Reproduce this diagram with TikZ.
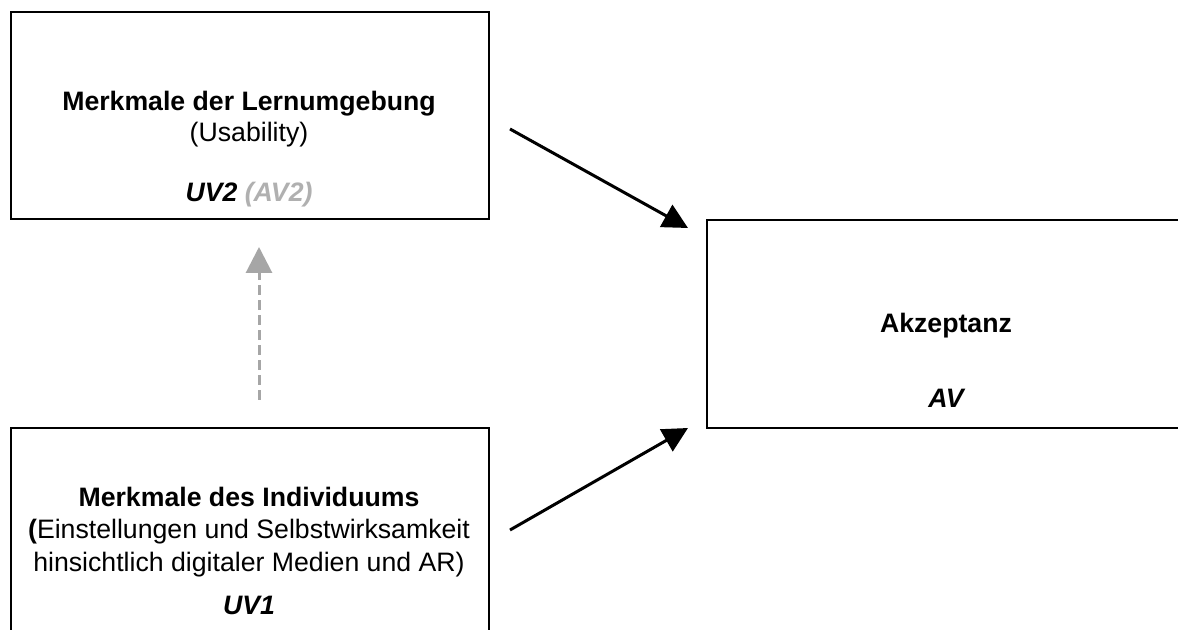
\documentclass[tikz,border=0pt]{standalone}
\usepackage{fontspec}
\setmainfont{Liberation Sans}
\usetikzlibrary{arrows.meta}
\definecolor{hintgray}{HTML}{A6A6A6}
\definecolor{softgray}{HTML}{B0B0B0}
\begin{document}
\begin{tikzpicture}[x=0.75pt,y=-0.75pt,
  box/.style={draw=black, line width=1.5pt, fill=white, anchor=north west, inner sep=0pt},
  txt/.style={anchor=base, inner sep=0pt, font=\fontsize{20}{24}\selectfont},
  effect/.style={line width=2.25pt, -{Triangle[length=18.75pt,width=18.75pt]}},
  hint/.style={hintgray, line width=2.25pt, dash pattern=on 7.5pt off 3.75pt,
    -{Triangle[length=19.5pt,width=19.5pt,fill=hintgray]}}]
\clip (0,0) rectangle (1178,630);
\fill[white] (0,0) rectangle (1178,630);

% the three variable boxes (two of them run past the page edge)
\node[box, minimum width=358.5pt, minimum height=155.25pt] (env) at (10,11) {};
\node[box, minimum width=360pt, minimum height=156pt] (acc) at (706,219) {};
\node[box, minimum width=358.5pt, minimum height=170pt] (ind) at (10,427) {};

% labels of the learning environment box
\node[txt, font=\fontsize{20}{24}\selectfont\bfseries] (envA) at (249,111) {Merkmale der Lernumgebung};
\node[txt] (envB) at (249,142) {(Usability)};
\node[txt, font=\fontsize{20}{24}\selectfont\bfseries\itshape] (envC) at (249,202) {UV2 \textcolor{softgray}{(AV2)}};

% labels of the acceptance box
\node[txt, font=\fontsize{20}{24}\selectfont\bfseries] (accA) at (946,333) {Akzeptanz};
\node[txt, font=\fontsize{20}{24}\selectfont\bfseries\itshape] (accB) at (946,408) {AV};

% labels of the individual box
\node[txt, font=\fontsize{20}{24}\selectfont\bfseries] (indA) at (249,507) {Merkmale des Individuums};
\node[txt] (indB) at (249,539) {\textbf{(}Einstellungen und Selbstwirksamkeit};
\node[txt] (indC) at (249,571) {hinsichtlich digitaler Medien und AR)};
\node[txt, font=\fontsize{20}{24}\selectfont\bfseries\itshape] (indD) at (249,614) {UV1};

% arrow end points
\coordinate (envOut) at (510,129);
\coordinate (accInTop) at (688,228);
\coordinate (indOut) at (510,530);
\coordinate (accInBot) at (688,428);
\coordinate (indUp) at (259,400);
\coordinate (envIn) at (259,247);

\draw[effect] (envOut) -- (accInTop);
\draw[effect] (indOut) -- (accInBot);
\draw[hint] (indUp) -- (envIn);
\end{tikzpicture}
\end{document}
